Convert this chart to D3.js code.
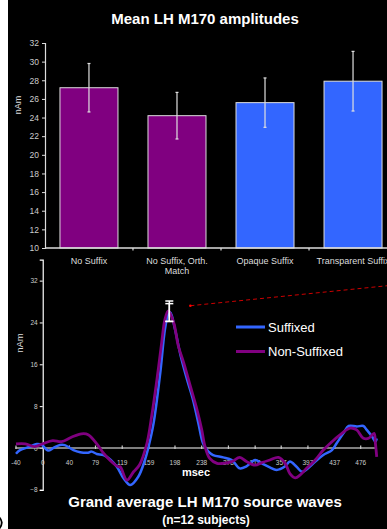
<!DOCTYPE html>
<html lang="en">
    <head>
        <meta charset="utf-8">
        <title>LH M170</title>
        <script type="text/javascript" src="https://cdn.jsdelivr.net/npm/d3@7"></script>
        <style>
            body { margin: 0; background: #fff; }
            text { font-family: "Liberation Sans", Arial, sans-serif; }
        </style>
    </head>

    <body>
        <script type="text/javascript">
        var w = 387;
        var h = 529;

        // ---- top chart data (bars) ----
        var categories = ["No Suffix", "No Suffix, Orth. Match", "Opaque Suffix", "Transparent Suffix"];
        var barValues = [27.2, 24.2, 25.6, 27.9];
        var barErrors = [2.6, 2.5, 2.65, 3.2];
        var barColors = ["#800080", "#800080", "#3366ff", "#3366ff"];
        var barTicks = [10, 12, 14, 16, 18, 20, 22, 24, 26, 28, 30, 32];

        // ---- bottom chart data (source waves), msec / nAm ----
        var suffixedMs = [-40, -34, -19, -9, -1.5, 8, 16, 26, 33, 46, 56, 68, 73, 81, 91, 101, 111, 121, 131,
            143, 153, 158, 166, 176, 183, 188, 191, 198, 206, 216, 225, 233, 240, 248, 255, 270, 283, 295,
            305, 318, 328, 340, 350, 363, 370, 380, 388, 395, 408, 420, 433, 440, 450, 458, 470, 480, 485, 493, 498, 500];
        var suffixedNam = [-1.1, -0.4, 0.25, 0.77, 0.6, -0.5, 0.0, 0.58, 0.55, -0.4, -0.8, -0.9, -0.7, -1.15, -1.35, -2.2, -3.6, -5.8, -7.1,
            -5.5, -2.3, 0, 4.75, 14.4, 22.7, 25.6, 25.9, 22.7, 17.9, 13.1, 9.2, 4.75, 0.9, -0.7, -1.35, -1.8, -2.3, -3.9,
            -3.5, -2.3, -2.95, -3.7, -4.2, -3.5, -2.6, -3.6, -4.55, -4.1, -2.6, -1.35, -0.4, 0.9, 2.8, 4.2, 4.1, 4.2, 3.45, 2.2, 1.2, 1.8];

        var nonSuffixedMs = [-40, -26, -12, 0, 15, 28, 43, 58, 68, 81, 91, 101, 113, 116, 126, 136, 145,
            156, 163, 171, 178, 183, 188, 196, 203, 211, 221, 231, 238, 243, 250, 261, 270, 283, 295,
            305, 318, 328, 340, 353, 363, 370, 378, 385, 395, 408, 420, 433, 445, 460, 470, 480, 488, 496, 498, 500];
        var nonSuffixedNam = [0.77, 0.77, 0.25, 0.8, 1.4, 1.2, 2.05, 2.7, 2.55, 0.8, -1.0, -2.4, -3.6, -3.6, -6.15, -4.55, -3.2,
            0.9, 6.0, 13.1, 20.1, 24.6, 26.2, 24.0, 19.5, 16.3, 11.8, 7.3, 3.5, 0.25, -2.0, -2.95, -2.95, -2.6, -1.8,
            -2.6, -3.3, -2.8, -2.3, -1.8, -2.95, -4.9, -5.7, -5.2, -3.9, -2.3, -0.4, 1.2, 2.5, 3.8, 3.45, 1.85, 1.85, 2.8, 0.9, -1.7];

        var waveTicksX = [-40, 0, 40, 79, 119, 159, 198, 238, 278, 318, 357, 397, 437, 476];
        var waveTicksY = [-8, 0, 8, 16, 24, 32];
        var seriesNames = ["Suffixed", "Non-Suffixed"];
        var seriesColors = ["#3366ff", "#800080"];
        // peak error bars: [msec, low, high]
        var peakErrors = [[189.5, 24.2, 28.1], [189.5, 24.2, 27.6]];
        // dashed pointer from the peak, [msec, nAm]
        var pointer = [[221, 27.2], [560, 31.6]];

        var svg = d3.select("body")
                    .append("svg")
                    .attr("width", w)
                    .attr("height", h);

        svg.append("rect").attr("x", 8).attr("y", 0)
            .attr("width", w - 8).attr("height", h).attr("fill", "#000");

        // cropped edge fragment at bottom left (drawn as a stroke)
        svg.append("path")
            .attr("d", "M-2,516 Q5,522 -1,529")
            .attr("fill", "none").attr("stroke", "#000").attr("stroke-width", 1.8);

        // ================= top chart =================
        var xBar = d3.scaleBand()
                    .domain(categories)
                    .range([45, 397])
                    .paddingInner(0.341)
                    .paddingOuter(0.17);

        var yBar = d3.scaleLinear()
                    .domain([10, 32])
                    .range([248, 43]);

        svg.append("text")
            .attr("x", 205).attr("y", 24)
            .attr("text-anchor", "middle")
            .attr("font-size", 15).attr("font-weight", "bold")
            .attr("fill", "#fff")
            .text("Mean LH M170 amplitudes");

        svg.selectAll("rect.bar")
            .data(barValues)
            .enter()
            .append("rect")
            .attr("class", "bar")
            .attr("x", function(d, i){ return xBar(categories[i]); })
            .attr("y", function(d){ return yBar(d); })
            .attr("width", xBar.bandwidth())
            .attr("height", function(d){ return yBar(10) - yBar(d); })
            .attr("fill", function(d, i){ return barColors[i]; })
            .attr("stroke", "#ddd")
            .attr("stroke-width", 1);

        // error bars
        var errG = svg.append("g").attr("stroke", "#e0e0e0").attr("stroke-width", 1.2);
        barValues.forEach(function(d, i){
            var cx = xBar(categories[i]) + xBar.bandwidth() / 2;
            errG.append("line").attr("x1", cx).attr("x2", cx)
                .attr("y1", yBar(d + barErrors[i])).attr("y2", yBar(d - barErrors[i]));
            [d + barErrors[i], d - barErrors[i]].forEach(function(v){
                errG.append("line").attr("x1", cx - 1.5).attr("x2", cx + 1.5)
                    .attr("y1", yBar(v)).attr("y2", yBar(v));
            });
        });

        // y axis
        var yAxisBar = d3.axisLeft(yBar).tickValues(barTicks).tickSize(3).tickPadding(3);
        var gyb = svg.append("g")
            .attr("transform", "translate(45,0)")
            .call(yAxisBar);
        gyb.select(".domain").attr("stroke", "#ddd").attr("stroke-width", 1.2);
        gyb.selectAll(".tick line").attr("stroke", "#ddd");
        gyb.selectAll(".tick text").attr("fill", "#ccc").attr("font-size", 8.5)
            .style("font-family", "Liberation Sans, Arial, sans-serif");

        // x axis line with ticks between categories
        svg.append("line").attr("x1", 45).attr("x2", w)
            .attr("y1", yBar(10)).attr("y2", yBar(10))
            .attr("stroke", "#ddd").attr("stroke-width", 1.5);
        categories.slice(1).forEach(function(c){
            var tx = xBar(c) - xBar.step() * xBar.paddingInner() / 2;
            svg.append("line").attr("x1", tx).attr("x2", tx)
                .attr("y1", yBar(10)).attr("y2", yBar(10) + 2.5)
                .attr("stroke", "#ddd").attr("stroke-width", 1.2);
        });

        // category labels
        var catLines = [["No Suffix"], ["No Suffix, Orth.", "Match"], ["Opaque Suffix"], ["Transparent Suffix"]];
        catLines.forEach(function(lines, i){
            var t = svg.append("text")
                .attr("x", xBar(categories[i]) + xBar.bandwidth() / 2)
                .attr("y", 264)
                .attr("text-anchor", "middle")
                .attr("font-size", 9)
                .attr("fill", "#ddd");
            lines.forEach(function(l, j){
                t.append("tspan").attr("x", xBar(categories[i]) + xBar.bandwidth() / 2)
                    .attr("dy", j === 0 ? 0 : 10).text(l);
            });
        });

        svg.append("text")
            .attr("transform", "translate(21,105) rotate(-90)")
            .attr("text-anchor", "middle")
            .attr("font-size", 9).attr("fill", "#ddd")
            .text("nAm");

        // ================= bottom chart =================
        var xWave = d3.scaleLinear()
                    .domain([-40, 476])
                    .range([16, 360.7]);

        var yWave = d3.scaleLinear()
                    .domain([-8, 36])
                    .range([489.8, 259.7]);

        // y axis
        var yAxisWave = d3.axisLeft(yWave).tickValues(waveTicksY).tickSize(3).tickPadding(2);
        var gyw = svg.append("g")
            .attr("transform", "translate(" + xWave(0) + ",0)")
            .call(yAxisWave);
        gyw.select(".domain").attr("stroke", "#fff").attr("stroke-width", 1.2);
        gyw.selectAll(".tick line").attr("stroke", "#fff");
        gyw.selectAll(".tick text").attr("fill", "#ccc").attr("font-size", 6.5)
            .style("font-family", "Liberation Sans, Arial, sans-serif");

        // x axis along zero
        svg.append("line").attr("x1", xWave(-41)).attr("x2", xWave(500))
            .attr("y1", yWave(0)).attr("y2", yWave(0))
            .attr("stroke", "#aaa").attr("stroke-width", 1.5);
        svg.selectAll("line.xtick")
            .data(waveTicksX)
            .enter()
            .append("line")
            .attr("class", "xtick")
            .attr("x1", function(d){ return xWave(d); })
            .attr("x2", function(d){ return xWave(d); })
            .attr("y1", yWave(0) - 2.5).attr("y2", yWave(0) + 1)
            .attr("stroke", "#ccc").attr("stroke-width", 1.2);
        svg.selectAll("text.xlab")
            .data(waveTicksX)
            .enter()
            .append("text")
            .attr("class", "xlab")
            .attr("x", function(d){ return xWave(d); })
            .attr("y", yWave(0) + 17)
            .attr("text-anchor", "middle")
            .attr("font-size", 6.5)
            .attr("fill", "#ccc")
            .text(function(d){ return d; });

        svg.append("text")
            .attr("x", 196).attr("y", 476)
            .attr("text-anchor", "middle")
            .attr("font-size", 11).attr("font-weight", "bold")
            .attr("fill", "#fff")
            .text("msec");

        svg.append("text")
            .attr("transform", "translate(23,343) rotate(-90)")
            .attr("text-anchor", "middle")
            .attr("font-size", 9.5).attr("fill", "#ddd")
            .text("nAm");

        // waves
        var line = d3.line()
                    .x(function(d){ return xWave(d[0]); })
                    .y(function(d){ return yWave(d[1]); })
                    .curve(d3.curveCatmullRom);

        var waves = [d3.zip(suffixedMs, suffixedNam), d3.zip(nonSuffixedMs, nonSuffixedNam)];
        svg.selectAll("path.wave")
            .data(waves)
            .enter()
            .append("path")
            .attr("class", "wave")
            .attr("d", line)
            .attr("fill", "none")
            .attr("stroke", function(d, i){ return seriesColors[i]; })
            .attr("stroke-width", function(d, i){ return i === 0 ? 2.5 : 2.8; })
            .attr("stroke-linejoin", "round");

        // peak error bars
        var pk = svg.append("g").attr("stroke", "#fff").attr("stroke-width", 1.5);
        peakErrors.forEach(function(e){
            var cx = xWave(e[0]);
            pk.append("line").attr("x1", cx).attr("x2", cx).attr("y1", yWave(e[2])).attr("y2", yWave(e[1]));
            pk.append("line").attr("x1", cx - 4).attr("x2", cx + 4).attr("y1", yWave(e[2])).attr("y2", yWave(e[2]));
            pk.append("line").attr("x1", cx - 4).attr("x2", cx + 4).attr("y1", yWave(e[1])).attr("y2", yWave(e[1]));
        });

        // dashed pointer
        svg.append("path")
            .attr("d", line.curve(d3.curveLinear)(pointer))
            .attr("fill", "none")
            .attr("stroke", "#cc0000")
            .attr("stroke-width", 1)
            .attr("stroke-dasharray", "4,3");
        svg.append("circle")
            .attr("cx", xWave(pointer[0][0])).attr("cy", yWave(pointer[0][1]))
            .attr("r", 1.3).attr("fill", "#ff0000");

        // legend
        seriesNames.forEach(function(n, i){
            var ly = 327 + i * 24.5;
            svg.append("line").attr("x1", 236).attr("x2", 265)
                .attr("y1", ly).attr("y2", ly)
                .attr("stroke", seriesColors[i]).attr("stroke-width", 3);
            svg.append("text").attr("x", 268).attr("y", ly + 4.5)
                .attr("font-size", 13).attr("fill", "#fff").text(n);
        });

        // bottom titles
        svg.append("text")
            .attr("x", 205).attr("y", 507)
            .attr("text-anchor", "middle")
            .attr("font-size", 15).attr("font-weight", "bold")
            .attr("fill", "#fff")
            .text("Grand average LH M170 source waves");
        svg.append("text")
            .attr("x", 206).attr("y", 524)
            .attr("text-anchor", "middle")
            .attr("font-size", 12).attr("font-weight", "bold")
            .attr("fill", "#fff")
            .text("(n=12 subjects)");
        </script>
    </body>
</html>
